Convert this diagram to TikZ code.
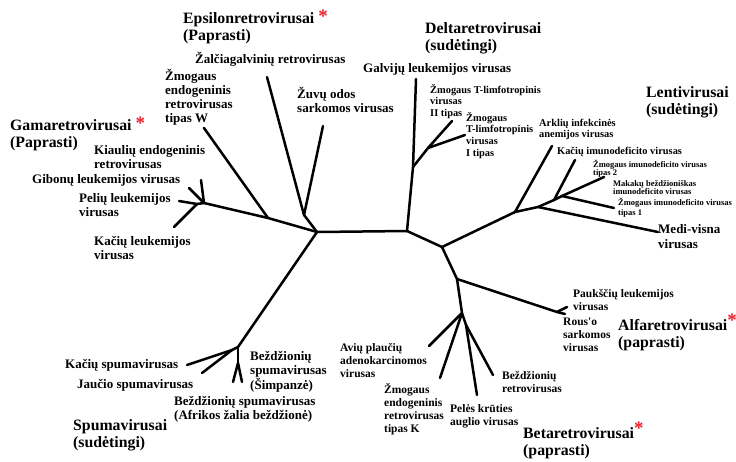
\documentclass[tikz,border=0pt]{standalone}
\usepackage{fontspec}
\setmainfont{Liberation Serif}[Ligatures=TeXOff]
\usepackage{xcolor}
\usepackage{tikz}
\definecolor {starred} {RGB}{237, 28, 36}

% lines of a name, baseline at the first line
\newcommand{\namelines}[1]{\begin{tabular}[t]{@{}l@{}}#1\end{tabular}}
% red mark of a group
\newcommand{\groupmark}[1]{\textcolor{starred}{\raisebox{#1}{\scalebox{1.2}{*}}}}

\tikzset{
	branch/.style = {line width=2.5pt, line cap=round, line join=round},
	group/.style  = {anchor=base west, inner sep=0pt, font=\fontsize{15.8}{17.5}\selectfont\bfseries},
	label/.style  = {anchor=base west, inner sep=0pt, font=\fontsize{13}{14.3}\selectfont\bfseries},
	mid/.style    = {anchor=base west, inner sep=0pt, font=\fontsize{11.5}{13.3}\selectfont\bfseries},
	small/.style  = {anchor=base west, inner sep=0pt, font=\fontsize{10.4}{11.8}\selectfont\bfseries},
	tiny/.style   = {anchor=base west, inner sep=0pt, font=\fontsize{8.5}{8.6}\selectfont\bfseries}
}

\begin{document}
\begin{tikzpicture}[x=1pt, y=-1pt]

	\useasboundingbox (0,0) rectangle (736,461);

	% Junctions and leaf ends of the tree
	\coordinate (rootL)    at (317,232);
	\coordinate (rootR)    at (407,231);
	% delta
	\coordinate (delta)    at (413,167);
	\coordinate (galv)     at (416,79);
	\coordinate (htlv)     at (428,148);
	\coordinate (htlvII)   at (452,121);
	\coordinate (htlvI)    at (465,135);
	% lenti
	\coordinate (lentbase) at (442,247);
	\coordinate (lentA)    at (515,212);
	\coordinate (arkl)     at (552,146);
	\coordinate (lentB)    at (538,207);
	\coordinate (medi)     at (658,232);
	\coordinate (lentC)    at (554,200);
	\coordinate (kaciuImu) at (575,160);
	\coordinate (lentD)    at (562,196);
	\coordinate (hivII)    at (604,177);
	\coordinate (hivI)     at (614,208);
	% alfa and beta
	\coordinate (alfabeta) at (457,279);
	\coordinate (alfa)     at (557,312);
	\coordinate (pauk)     at (567,307);
	\coordinate (rous)     at (565,314);
	\coordinate (beta)     at (462,313);
	\coordinate (avi)      at (429,346);
	\coordinate (herk)     at (440,378);
	\coordinate (betaB)    at (466,325);
	\coordinate (peles)    at (477,395);
	\coordinate (bezdz)    at (493,375);
	% epsilon and gama
	\coordinate (eps)      at (304,215);
	\coordinate (zalc)     at (267,77);
	\coordinate (zuvu)     at (323,126);
	\coordinate (herw)     at (268,218);
	\coordinate (herwEnd)  at (204,128);
	\coordinate (gamA)     at (204,203);
	\coordinate (kiaul)    at (201,180);
	\coordinate (gibon)    at (189,188);
	\coordinate (gamB)     at (197,204);
	\coordinate (peliu)    at (179,201);
	\coordinate (kaciuL)   at (174,227);
	% spuma
	\coordinate (spA)      at (238,347);
	\coordinate (spB)      at (232,350);
	\coordinate (kaciuSp)  at (187,365);
	\coordinate (jaucio)   at (202,373);
	\coordinate (spC)      at (238,363);
	\coordinate (simp)     at (242,382);
	\coordinate (afr)      at (233,382);

	% Draw branches
	\foreach \from/\to in {rootL/rootR, rootR/delta, delta/galv, delta/htlv, htlv/htlvII, htlv/htlvI,
		rootR/lentbase, lentbase/lentA, lentA/arkl, lentA/lentB, lentB/medi, lentB/lentC,
		lentC/kaciuImu, lentC/lentD, lentD/hivII, lentD/hivI,
		lentbase/alfabeta, alfabeta/alfa, alfa/pauk, alfa/rous,
		alfabeta/beta, beta/avi, beta/herk, beta/betaB, betaB/peles, betaB/bezdz,
		rootL/eps, eps/zalc, eps/zuvu, rootL/herw, herw/herwEnd, herw/gamA,
		gamA/kiaul, gamA/gibon, gamA/gamB, gamB/peliu, gamB/kaciuL,
		rootL/spA, spA/spB, spB/kaciuSp, spB/jaucio, spA/spC, spC/simp, spC/afr}
		\draw[branch] (\from) -- (\to);

	% Draw group names
	\node[group] (epsName)   at (183,23)  {\namelines{Epsilonretrovirusai \groupmark{1pt}\\(Paprasti)}};
	\node[group] (gamaName)  at (10,130)  {\namelines{Gamaretrovirusai \groupmark{1pt}\\(Paprasti)}};
	\node[group] (deltaName) at (425,33)  {\namelines{Deltaretrovirusai\\(sudėtingi)}};
	\node[group] (lentName)  at (646,97)  {\namelines{Lentivirusai\\(sudėtingi)}};
	\node[group] (alfaName)  at (618,330) {\namelines{Alfaretrovirusai\groupmark{4pt}\\(paprasti)}};
	\node[group] (betaName)  at (523,438) {\namelines{Betaretrovirusai\groupmark{4pt}\\(paprasti)}};
	\node[group] (spumaName) at (73,430)  {\namelines{Spumavirusai\\(sudėtingi)}};

	% Draw virus names
	% epsilon and gama
	\node[label] (zalcName)    at (195,63)  {Žalčiagalvinių retrovirusas};
	\node[label] (herwName)    at (165,80)  {\namelines{Žmogaus\\endogeninis\\retrovirusas\\tipas W}};
	\node[label] (zuvuName)    at (297,98)  {\namelines{Žuvų odos\\sarkomos virusas}};
	\node[label] (kiaulName)   at (94,154)  {\namelines{Kiaulių endogeninis\\retrovirusas}};
	\node[label] (gibonName)   at (32,183)  {Gibonų leukemijos virusas};
	\node[label] (peliuName)   at (79,202)  {\namelines{Pelių leukemijos\\virusas}};
	\node[label] (kaciuLName)  at (94,245)  {\namelines{Kačių leukemijos\\virusas}};
	% delta
	\node[label] (galvName)    at (363,72)  {Galvijų leukemijos virusas};
	\node[small] (htlvIIName)  at (430,93)  {\namelines{Žmogaus T-limfotropinis\\virusas\\II tipas}};
	\node[small] (htlvIName)   at (466,121) {\namelines{Žmogaus\\T-limfotropinis\\virusas\\I tipas}};
	% lenti
	\node[small] (arklName)    at (539,126) {\namelines{Arklių infekcinės\\anemijos virusas}};
	\node[small] (kaciuImuName) at (557,154) {Kačių imunodeficito virusas};
	\node[tiny]  (hivIIName)   at (593,167) {\namelines{Žmogaus imunodeficito virusas\\tipas 2}};
	\node[tiny]  (sivName)     at (613,186) {\namelines{Makakų beždžioniškas\\imunodeficito virusas}};
	\node[tiny]  (hivIName)    at (618,205) {\namelines{Žmogaus imunodeficito virusas\\[2pt]tipas 1}};
	\node[label] (mediName)    at (658,233) {\namelines{Medi-visna\\[1pt]virusas}};
	% alfa and beta
	\node[mid]   (paukName)    at (573,297) {\namelines{Paukščių leukemijos\\virusas}};
	\node[mid]   (rousName)    at (563,325) {\namelines{Rous'o\\sarkomos\\virusas}};
	\node[mid]   (aviName)     at (340,351) {\namelines{Avių plaučių\\adenokarcinomos\\virusas}};
	\node[mid]   (herkName)    at (384,393) {\namelines{Žmogaus\\endogeninis\\retrovirusas\\tipas K}};
	\node[mid]   (pelesName)   at (450,412) {\namelines{Pelės krūties\\auglio virusas}};
	\node[mid]   (bezdzName)   at (502,379) {\namelines{Beždžionių\\retrovirusas}};
	% spuma
	\node[label] (kaciuSpName) at (65,368)  {Kačių spumavirusas};
	\node[label] (jaucioName)  at (77,388)  {Jaučio spumavirusas};
	\node[label] (simpName)    at (250,360) {\namelines{Beždžionių\\spumavirusas\\(Šimpanzė)}};
	\node[label] (afrName)     at (174,405) {\namelines{Beždžionių spumavirusas\\(Afrikos žalia beždžionė)}};

\end{tikzpicture}
\end{document}
